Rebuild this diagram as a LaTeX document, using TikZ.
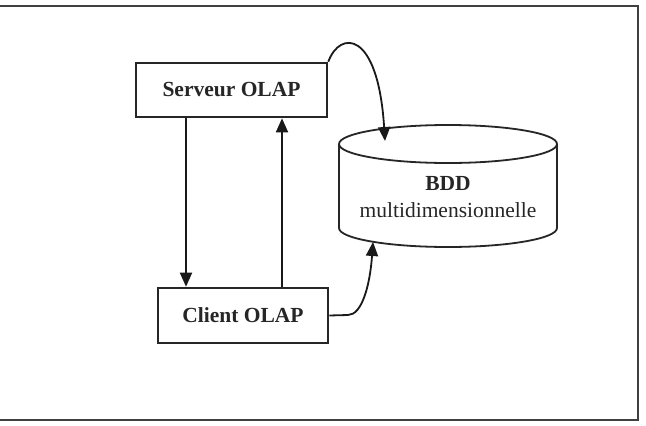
\documentclass[tikz,border=0pt]{standalone}
\usepackage{fontspec}
\setmainfont{Liberation Serif}
\usetikzlibrary{arrows.meta}
\begin{document}
\begin{tikzpicture}[x=1pt,y=-1pt,
  box/.style={draw=black!85, line width=2.6pt, rectangle, inner sep=0pt,
    font=\fontsize{21.5}{25}\selectfont\bfseries, text=black!85},
  lbl/.style={inner sep=0pt, text=black!85, font=\fontsize{21.5}{25}\selectfont},
  link/.style={line width=1.8pt, draw=black!90,
    -{Triangle[length=14pt,width=12pt]}},
  frame/.style={draw=black!75, line width=2.6pt}
]
\useasboundingbox (0,0) rectangle (646,426);
\clip (0,0) rectangle (646,426);
\fill[white] (0,0) rectangle (646,426);
\draw[frame] (-4,6) rectangle (638,420);

% boxes
\node[box, minimum width=191pt, minimum height=54pt] (srv) at (231.5,90) {Serveur OLAP};
\node[box, minimum width=170pt, minimum height=55pt] (cli) at (243,315.5) {Client OLAP};

% cylinder
\draw[line width=1.8pt, draw=black!85, fill=white]
  (339,144) -- (339,228) arc[start angle=180, end angle=0, x radius=109, y radius=19]
  -- (557,144);
\draw[line width=1.8pt, draw=black!85] (448,144) ellipse[x radius=109, y radius=19];
\node[lbl, font=\fontsize{21.5}{25}\selectfont\bfseries] (bdd) at (448,183) {BDD};
\node[lbl] (bddsub) at (448,210) {multidimensionnelle};

% helper coordinates
\coordinate (xa) at (186,200);
\coordinate (xb) at (282,200);
\coordinate (t1) at (385,141);
\coordinate (t2) at (373,242);
\coordinate (c2a) at (348,315);

% connectors
\draw[link] (srv.south -| xa) -- (cli.north -| xa);
\draw[link] (cli.north -| xb) -- (srv.south -| xb);
\draw[link] (srv.north east) .. controls (340,30) and (378,30) .. (t1);
\draw[link] (cli.east) -- (c2a) .. controls (362,315) and (370,285) .. (t2);
\end{tikzpicture}
\end{document}
